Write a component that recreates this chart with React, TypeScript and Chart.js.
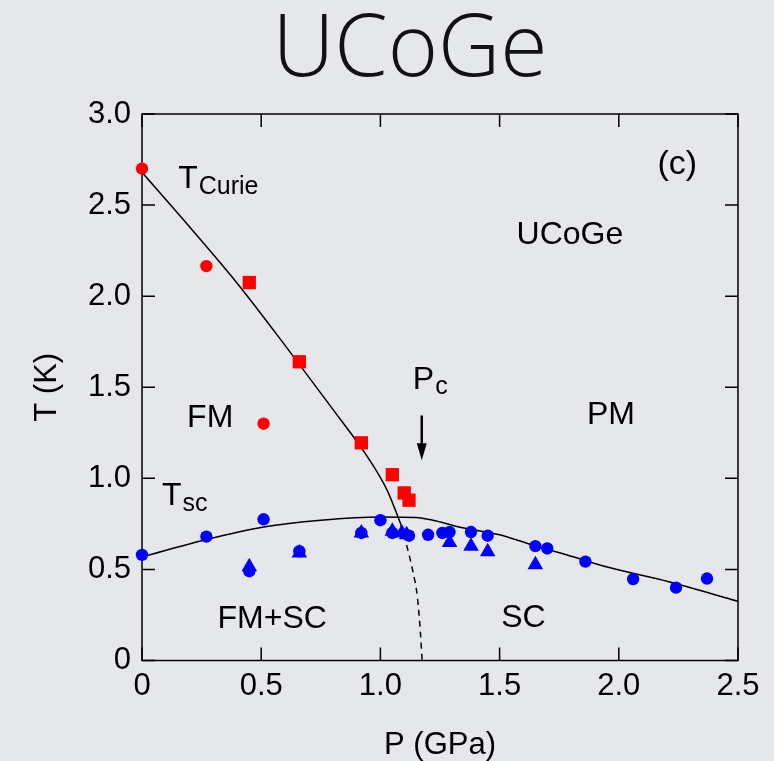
import { useEffect, useRef } from "react";
import { Chart, registerables } from "chart.js";

Chart.register(...registerables);

// ---- text ----
const titleText = "UCoGe";
const xTitle = "P (GPa)";
const yTitle = "T (K)";
const xTickLabels = ["0", "0.5", "1.0", "1.5", "2.0", "2.5"];
const yTickLabels = ["0", "0.5", "1.0", "1.5", "2.0", "2.5", "3.0"];

// ---- Curie temperature (red) ----
const curieCircleP = [0, 0.27, 0.51];
const curieCircleT = [2.7, 2.165, 1.3];
const curieSquareP = [0.45, 0.66, 0.92, 1.05, 1.1, 1.12];
const curieSquareT = [2.075, 1.64, 1.195, 1.02, 0.92, 0.88];

// ---- superconducting transition (blue) ----
const scCircleP = [0, 0.27, 0.45, 0.51, 0.66, 0.92, 1.0, 1.05, 1.12, 1.2, 1.26, 1.29, 1.38, 1.45, 1.65, 1.7, 1.86, 2.06, 2.24, 2.37];
const scCircleT = [0.58, 0.68, 0.49, 0.775, 0.6, 0.7, 0.77, 0.7, 0.685, 0.69, 0.7, 0.705, 0.705, 0.685, 0.628, 0.615, 0.543, 0.447, 0.4, 0.45];
const scTriangleP = [0.45, 0.66, 0.92, 1.05, 1.09, 1.11, 1.29, 1.38, 1.45, 1.65];
const scTriangleT = [0.515, 0.59, 0.7, 0.71, 0.7, 0.69, 0.648, 0.627, 0.597, 0.526];

// ---- guide curves ----
const curieLineP = [0, 0.2, 0.4, 0.6, 0.8, 0.95, 1.03, 1.085];
const curieLineT = [2.68, 2.38, 2.07, 1.73, 1.38, 1.11, 0.93, 0.75];
const curieDashP = [1.085, 1.11, 1.138, 1.155, 1.168, 1.175];
const curieDashT = [0.75, 0.633, 0.478, 0.35, 0.15, 0.0];
const scLineP = [0, 0.27, 0.51, 0.75, 1.0, 1.15, 1.22, 1.33, 1.5, 1.64, 1.78, 1.96, 2.21, 2.5];
const scLineT = [0.568, 0.664, 0.733, 0.77, 0.788, 0.785, 0.77, 0.733, 0.69, 0.633, 0.58, 0.51, 0.432, 0.325];

// ---- labels inside the plot (anchored in P/T units) ----
const regionLabels = [
  { text: "FM", p: 0.286, t: 1.281 },
  { text: "PM", p: 1.967, t: 1.301 },
  { text: "SC", p: 1.6, t: 0.186 },
  { text: "FM+SC", p: 0.546, t: 0.179 },
  { text: "UCoGe", p: 1.795, t: 2.289 },
];
const panelTag = { text: "(c)", p: 2.2455, t: 2.672 };
const subscriptLabels = [
  { main: "T", sub: "Curie", p: 0.152, t: 2.592 },
  { main: "P", sub: "c", p: 1.136, t: 1.493 },
  { main: "T", sub: "sc", p: 0.084, t: 0.852 },
];
const pcArrow = { p: 1.1735, tFrom: 1.345, tTo: 1.099 };

const toXY = (ps: number[], ts: number[]) => ps.map((p, i) => ({ x: p, y: ts[i] }));

const FONT = "'Liberation Sans', Arial, Helvetica, sans-serif";
const BG = "#e5e7eb";

const decorPlugin = {
  id: "decor",
  beforeDraw(chart: any) {
    const { ctx, width, height } = chart;
    ctx.save();
    ctx.fillStyle = BG;
    ctx.fillRect(0, 0, width, height);
    // big heading
    ctx.fillStyle = "#111";
    ctx.font = `300 86px 'Open Sans', 'Lato', sans-serif`;
    ctx.textAlign = "center";
    ctx.textBaseline = "alphabetic";
    ctx.fillText(titleText, 410, 76);
    ctx.restore();
  },
  beforeDatasetsDraw(chart: any) {
    const { ctx, chartArea: a, scales } = chart;
    const xs = scales.x;
    const ys = scales.y;
    const tick = 13;
    ctx.save();
    ctx.strokeStyle = "#000";
    ctx.lineWidth = 1.5;
    ctx.strokeRect(a.left, a.top, a.right - a.left, a.bottom - a.top);
    ctx.beginPath();
    xs.ticks.forEach((t: any) => {
      const x = xs.getPixelForValue(t.value);
      ctx.moveTo(x, a.bottom);
      ctx.lineTo(x, a.bottom - tick);
      ctx.moveTo(x, a.top);
      ctx.lineTo(x, a.top + tick);
    });
    ys.ticks.forEach((t: any) => {
      const y = ys.getPixelForValue(t.value);
      ctx.moveTo(a.left, y);
      ctx.lineTo(a.left + tick, y);
      ctx.moveTo(a.right, y);
      ctx.lineTo(a.right - tick, y);
    });
    ctx.stroke();
    ctx.restore();
  },
  afterDraw(chart: any) {
    const { ctx, scales } = chart;
    const xs = scales.x;
    const ys = scales.y;
    ctx.save();
    ctx.fillStyle = "#000";
    ctx.textBaseline = "alphabetic";

    ctx.font = `32px ${FONT}`;
    ctx.textAlign = "center";
    regionLabels.forEach((l) => {
      ctx.fillText(l.text, xs.getPixelForValue(l.p), ys.getPixelForValue(l.t));
    });

    ctx.font = `34px ${FONT}`;
    ctx.fillText(panelTag.text, xs.getPixelForValue(panelTag.p), ys.getPixelForValue(panelTag.t));

    ctx.textAlign = "left";
    subscriptLabels.forEach((l) => {
      const x = xs.getPixelForValue(l.p);
      const y = ys.getPixelForValue(l.t);
      ctx.font = `32px ${FONT}`;
      ctx.fillText(l.main, x, y);
      const w = ctx.measureText(l.main).width;
      ctx.font = `25px ${FONT}`;
      ctx.fillText(l.sub, x + w + 1, y + 5.5);
    });

    // arrow pointing at the critical pressure
    const ax = xs.getPixelForValue(pcArrow.p);
    const y0 = ys.getPixelForValue(pcArrow.tFrom);
    const y1 = ys.getPixelForValue(pcArrow.tTo);
    const head = 17;
    ctx.strokeStyle = "#000";
    ctx.lineWidth = 2.5;
    ctx.beginPath();
    ctx.moveTo(ax, y0);
    ctx.lineTo(ax, y1 - head + 2);
    ctx.stroke();
    ctx.beginPath();
    ctx.moveTo(ax, y1);
    ctx.lineTo(ax - 5, y1 - head);
    ctx.lineTo(ax + 5, y1 - head);
    ctx.closePath();
    ctx.fill();
    ctx.restore();
  },
};

export default function App() {
  const ref = useRef<HTMLCanvasElement | null>(null);

  useEffect(() => {
    document.body.style.margin = "0";
    document.body.style.background = BG;
    const canvas = ref.current;
    if (!canvas) return;

    const line = (data: any, dash: number[] = []) => ({
      type: "line" as const,
      data,
      showLine: true,
      borderColor: "#000",
      borderWidth: 1.5,
      borderDash: dash,
      pointRadius: 0,
      fill: false,
      cubicInterpolationMode: "monotone" as const,
      order: 2,
    });
    const marks = (data: any, color: string, style: string, radius: number) => ({
      type: "scatter" as const,
      data,
      pointStyle: style,
      pointRadius: radius,
      pointBackgroundColor: color,
      pointBorderWidth: 0,
      pointBorderColor: color,
      clip: false,
      order: 1,
    });

    const chart = new Chart(canvas, {
      type: "scatter",
      data: {
        datasets: [
          line(toXY(curieLineP, curieLineT)),
          line(toXY(curieDashP, curieDashT), [6, 5]),
          line(toXY(scLineP, scLineT)),
          marks(toXY(curieCircleP, curieCircleT), "#ff0000", "circle", 6.2),
          marks(toXY(curieSquareP, curieSquareT), "#ff0000", "rect", 9.4),
          marks(toXY(scCircleP, scCircleT), "#0000ff", "circle", 6.2),
          marks(toXY(scTriangleP, scTriangleT), "#0000ff", "triangle", 9),
        ] as any,
      },
      options: {
        responsive: false,
        animation: false,
        events: [],
        layout: { padding: { top: 114, right: 36, left: 0, bottom: 0 } },
        plugins: {
          legend: { display: false },
          tooltip: { enabled: false },
          title: { display: false },
        },
        scales: {
          x: {
            type: "linear",
            min: 0,
            max: 2.5,
            grid: { display: false, drawTicks: false },
            border: { display: false },
            afterFit: (s: any) => {
              s.height = 100.5;
            },
            ticks: {
              stepSize: 0.5,
              padding: 7,
              color: "#000",
              font: { family: FONT, size: 31 },
              maxRotation: 0,
              callback: (v: any) => xTickLabels[Math.round(Number(v) / 0.5)] ?? "",
            },
            title: {
              display: true,
              text: xTitle,
              color: "#000",
              font: { family: FONT, size: 31, lineHeight: 1 },
              padding: { top: 0, bottom: 0 },
            },
          },
          y: {
            type: "linear",
            min: 0,
            max: 3,
            grid: { display: false, drawTicks: false },
            border: { display: false },
            afterFit: (s: any) => {
              s.width = 142;
            },
            ticks: {
              stepSize: 0.5,
              padding: 11,
              color: "#000",
              font: { family: FONT, size: 31 },
              callback: (v: any) => yTickLabels[Math.round(Number(v) / 0.5)] ?? "",
            },
            title: {
              display: true,
              text: yTitle,
              color: "#000",
              font: { family: FONT, size: 31, lineHeight: 1 },
              padding: { top: 32, bottom: 0 },
            },
          },
        },
      },
      plugins: [decorPlugin],
    });

    return () => chart.destroy();
  }, []);

  return (
    <div style={{ width: 774, height: 761, background: BG }}>
      <canvas ref={ref} width={774} height={761} />
    </div>
  );
}
